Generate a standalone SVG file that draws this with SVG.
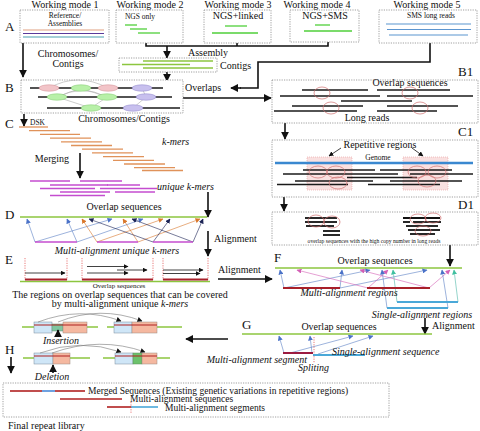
<svg xmlns="http://www.w3.org/2000/svg" width="480" height="431" viewBox="0 0 480 431">
<style>
text{font-family:"Liberation Serif",serif;fill:#111;}
.t{font-size:10px;}
.s{font-size:7.5px;}
.xs{font-size:5.6px;}
.lb{font-size:13px;}
.i{font-style:italic;}
.box{fill:#fff;stroke:#888;stroke-width:0.8;stroke-dasharray:1.2 1.2;}
.blk{stroke:#111;stroke-width:1.6;fill:none;}
.arr{stroke:#111;stroke-width:1.6;fill:none;marker-end:url(#ah);}
.g{stroke:#8cc63f;stroke-width:1.3;}
.gb{stroke:#4fcf3a;stroke-width:1.3;}
.bl{stroke:#1a1a1a;stroke-width:1.3;}
.cir{fill:none;stroke:#d07070;stroke-width:0.7;}
.km{stroke:#e0925a;stroke-width:1.3;}
.uk{stroke:#c44ccf;stroke-width:1.4;}
.lb1{stroke:#5b7fc4;stroke-width:0.6;marker-end:url(#ab);}
.lo{stroke:#d9772b;stroke-width:0.6;marker-end:url(#ao);}
.ln{stroke:#1c2456;stroke-width:0.6;marker-end:url(#an);}
.lm{stroke:#d35fb5;stroke-width:0.6;marker-end:url(#am);}
.lt{stroke:#4fb7a8;stroke-width:0.6;marker-end:url(#at);}
.red{stroke:#a8202a;stroke-width:2;}
.sky{stroke:#4aa8d8;stroke-width:2;}
.rdot{stroke:#e04040;stroke-width:0.7;stroke-dasharray:1.2 1.2;}
.ar2{stroke:#111;stroke-width:0.8;marker-end:url(#as);}
.arc{fill:none;stroke:#777;stroke-width:0.6;marker-end:url(#as);}
</style>
<defs>
<marker id="ah" viewBox="0 0 10 10" refX="9" refY="5" markerWidth="8" markerHeight="8" markerUnits="userSpaceOnUse" orient="auto"><path d="M0,0 L10,5 L0,10 Z" fill="#111"/></marker>
<marker id="as" viewBox="0 0 10 10" refX="9" refY="5" markerWidth="5" markerHeight="5" markerUnits="userSpaceOnUse" orient="auto"><path d="M0,0 L10,5 L0,10 Z" fill="#111"/></marker>
<marker id="ab" viewBox="0 0 10 10" refX="9" refY="5" markerWidth="5" markerHeight="5" markerUnits="userSpaceOnUse" orient="auto"><path d="M0,0 L10,5 L0,10 Z" fill="#4a72c8"/></marker>
<marker id="ao" viewBox="0 0 10 10" refX="9" refY="5" markerWidth="5" markerHeight="5" markerUnits="userSpaceOnUse" orient="auto"><path d="M0,0 L10,5 L0,10 Z" fill="#d9772b"/></marker>
<marker id="an" viewBox="0 0 10 10" refX="9" refY="5" markerWidth="5" markerHeight="5" markerUnits="userSpaceOnUse" orient="auto"><path d="M0,0 L10,5 L0,10 Z" fill="#1c2456"/></marker>
<marker id="am" viewBox="0 0 10 10" refX="9" refY="5" markerWidth="5" markerHeight="5" markerUnits="userSpaceOnUse" orient="auto"><path d="M0,0 L10,5 L0,10 Z" fill="#d35fb5"/></marker>
<marker id="at" viewBox="0 0 10 10" refX="9" refY="5" markerWidth="5" markerHeight="5" markerUnits="userSpaceOnUse" orient="auto"><path d="M0,0 L10,5 L0,10 Z" fill="#3fc0a0"/></marker>
</defs>
<rect width="480" height="431" fill="#fff"/>

<!-- Panel labels -->
<g id="labels">
<text class="lb" x="5" y="31">A</text>
<text class="lb" x="5" y="92">B</text>
<text class="lb" x="5" y="128">C</text>
<text class="lb" x="5" y="219">D</text>
<text class="lb" x="5" y="264">E</text>
<text class="lb" x="5" y="354">H</text>
<text class="lb" x="458" y="76">B1</text>
<text class="lb" x="458" y="136">C1</text>
<text class="lb" x="458" y="209">D1</text>
<text class="lb" x="274" y="262">F</text>
<text class="lb" x="242" y="329">G</text>
</g>

<!-- Connectors -->
<g id="connectors">
<line class="arr" x1="23" y1="43" x2="23" y2="77"/>
<path class="blk" d="M146,43 V46 H328 V42 M237,43 V46"/>
<line class="arr" x1="167" y1="46" x2="167" y2="58"/>
<line class="arr" x1="167" y1="72" x2="167" y2="81"/>
<path class="blk" d="M430,43 V62 H258 V88 H240"/>
<line class="arr" x1="241" y1="88" x2="231" y2="88"/>
<line class="arr" x1="183" y1="98" x2="271" y2="98"/>
<line class="arr" x1="285" y1="123" x2="285" y2="139"/>
<line class="arr" x1="284" y1="197" x2="284" y2="211"/>
<line class="arr" x1="24" y1="114" x2="24" y2="126"/>
<line class="arr" x1="80" y1="153" x2="80" y2="178"/>
<line class="arr" x1="208" y1="192" x2="208" y2="217"/>
<line class="arr" x1="208" y1="231" x2="208" y2="256"/>
<line class="arr" x1="218" y1="279" x2="272" y2="279"/>
<line class="arr" x1="450" y1="245" x2="450" y2="266"/>
<line class="arr" x1="425" y1="318" x2="425" y2="334"/>
<line class="arr" x1="228" y1="339" x2="186" y2="339"/>
<line class="arr" x1="11" y1="357" x2="11" y2="373"/>
<text class="t" x="68" y="57" text-anchor="middle">Chromosomes/</text>
<text class="t" x="68" y="67" text-anchor="middle">Contigs</text>
<text class="t" x="188" y="56">Assembly</text>
<text class="t" x="185" y="91">Overlaps</text>
<text class="s" x="30" y="125">DSK</text>
<text class="t" x="52" y="162" text-anchor="middle">Merging</text>
<text class="t" x="214" y="242">Alignment</text>
<text class="t" x="218" y="273">Alignment</text>
<text class="t" x="432" y="329">Alignment</text>
</g>

<!-- A: working modes -->
<g id="mode1">
<text class="t" x="65" y="8" text-anchor="middle">Working mode 1</text>
<rect class="box" x="20" y="10" width="89" height="33"/>
<text class="s" x="65" y="18" text-anchor="middle">Reference/</text>
<text class="s" x="65" y="26" text-anchor="middle">Assemblies</text>
<line x1="23" y1="30" x2="104" y2="30" stroke="#e0a080" stroke-width="1.2"/>
<line x1="23" y1="33.5" x2="104" y2="33.5" stroke="#5a3a9a" stroke-width="1.2"/>
<line x1="23" y1="37" x2="104" y2="37" stroke="#4aa0b0" stroke-width="1.2"/>
</g>
<g id="mode2">
<text class="t" x="150" y="8" text-anchor="middle">Working mode 2</text>
<rect class="box" x="116" y="10" width="67" height="33"/>
<text class="s" x="140" y="19" text-anchor="middle">NGS only</text>
<line class="gb" x1="125" y1="25" x2="137" y2="25"/>
<line class="gb" x1="130" y1="29" x2="147" y2="29"/>
<line class="gb" x1="138" y1="33" x2="160" y2="33"/>
</g>
<g id="mode3">
<text class="t" x="238" y="8" text-anchor="middle">Working mode 3</text>
<rect class="box" x="204" y="10" width="67" height="33"/>
<text class="t" x="238" y="19" text-anchor="middle">NGS+linked</text>
<line class="gb" x1="225" y1="26" x2="247" y2="26"/>
<line class="gb" x1="212" y1="33" x2="258" y2="33"/>
</g>
<g id="mode4">
<text class="t" x="317" y="8" text-anchor="middle">Working mode 4</text>
<rect class="box" x="290" y="10" width="69" height="32"/>
<text class="t" x="325" y="19" text-anchor="middle">NGS+SMS</text>
<line class="gb" x1="315" y1="25" x2="330" y2="25"/>
<line class="gb" x1="304" y1="31" x2="352" y2="31"/>
</g>
<g id="mode5">
<text class="t" x="427" y="8" text-anchor="middle">Working mode 5</text>
<rect class="box" x="379" y="10" width="98" height="33"/>
<text class="s" x="431" y="18" text-anchor="middle">SMS long reads</text>
<line x1="386" y1="24" x2="471" y2="24" stroke="#5b95d0" stroke-width="1.1"/>
<line x1="387" y1="29.5" x2="471" y2="29.5" stroke="#5b95d0" stroke-width="1.1"/>
<line x1="389" y1="35" x2="468" y2="35" stroke="#5b95d0" stroke-width="1.1"/>
</g>
<g id="contigs">
<rect class="box" x="119" y="58" width="98" height="14"/>
<line class="g" x1="143" y1="61" x2="213" y2="61"/>
<line class="g" x1="122" y1="64.5" x2="190" y2="64.5"/>
<line class="g" x1="143" y1="68" x2="213" y2="68"/>
<text class="t" x="220" y="69">Contigs</text>
</g>

<!-- B -->
<g id="B">
<rect class="box" x="21" y="80" width="162" height="33"/>
<g fill="none" stroke="#aaa" stroke-width="0.6">
<path d="M49,88 Q78,72 108,88"/>
<path d="M81,88 L57,97 M81,88 L107,97"/>
<path d="M57,97 Q82,84 107,97"/>
<path d="M57,97 L91,108 M107,97 L91,108"/>
<path d="M142,88 L146,97 L133,108"/>
</g>
<line class="bl" x1="30" y1="88" x2="163" y2="88"/>
<line class="bl" x1="38" y1="97" x2="172" y2="97"/>
<line class="bl" x1="47" y1="108" x2="180" y2="108"/>
<g stroke-width="0.5">
<ellipse cx="49" cy="88" rx="10" ry="3.2" fill="#f2c4c8" stroke="#d08a90"/>
<ellipse cx="81" cy="88" rx="10" ry="3.2" fill="#b8f0a8" stroke="#7cc86a"/>
<ellipse cx="108" cy="88" rx="10" ry="3.2" fill="#f2c4c8" stroke="#d08a90"/>
<ellipse cx="142" cy="88" rx="10" ry="3.2" fill="#c8c0ee" stroke="#8a80c8"/>
<ellipse cx="57" cy="97" rx="10" ry="3.2" fill="#b8f0a8" stroke="#7cc86a"/>
<ellipse cx="107" cy="97" rx="10" ry="3.2" fill="#b8f0a8" stroke="#7cc86a"/>
<ellipse cx="146" cy="97" rx="10" ry="3.2" fill="#c8c0ee" stroke="#8a80c8"/>
<ellipse cx="91" cy="108" rx="10" ry="3.2" fill="#b8f0a8" stroke="#7cc86a"/>
<ellipse cx="133" cy="108" rx="10" ry="3.2" fill="#c8c0ee" stroke="#8a80c8"/>
</g>
<text class="t" x="124" y="122" text-anchor="middle">Chromosomes/Contigs</text>
</g>

<!-- B1 -->
<g id="B1">
<rect class="box" x="272" y="80" width="206" height="43"/>
<text class="t" x="410" y="86" text-anchor="middle">Overlap sequences</text>
<line class="bl" x1="302" y1="90" x2="368" y2="90"/>
<line class="bl" x1="377" y1="90" x2="450" y2="90"/>
<line class="bl" x1="280" y1="96" x2="380" y2="96"/>
<line class="bl" x1="387" y1="96" x2="473" y2="96"/>
<line class="bl" x1="341" y1="101" x2="412" y2="101"/>
<line class="bl" x1="292" y1="106" x2="363" y2="106"/>
<line class="bl" x1="387" y1="106" x2="458" y2="106"/>
<line class="bl" x1="274" y1="111" x2="357" y2="111"/>
<line class="bl" x1="377" y1="111" x2="437" y2="111"/>
<ellipse class="cir" cx="322" cy="93" rx="8" ry="6"/>
<ellipse class="cir" cx="410" cy="93" rx="8" ry="6"/>
<ellipse class="cir" cx="331" cy="108" rx="8" ry="6"/>
<ellipse class="cir" cx="420" cy="108" rx="8" ry="6"/>
<text class="t" x="367" y="121" text-anchor="middle">Long reads</text>
</g>

<!-- C1 -->
<g id="C1">
<rect class="box" x="272" y="140" width="206" height="57"/>
<rect x="307" y="157" width="45" height="33" fill="#f9e0e0" stroke="#e8a0a0" stroke-width="0.6" stroke-dasharray="1 1"/>
<rect x="403" y="157" width="45" height="33" fill="#f9e0e0" stroke="#e8a0a0" stroke-width="0.6" stroke-dasharray="1 1"/>
<text class="t" x="380" y="148" text-anchor="middle">Repetitive regions</text>
<line class="ar2" x1="341" y1="148" x2="329" y2="156"/>
<line class="ar2" x1="412" y1="148" x2="423" y2="156"/>
<text class="s" x="378" y="160" text-anchor="middle">Genome</text>
<line x1="275" y1="163" x2="473" y2="163" stroke="#3a88d0" stroke-width="2.5"/>
<line class="bl" x1="303" y1="170" x2="375" y2="170"/>
<line class="bl" x1="380" y1="170" x2="452" y2="170"/>
<line class="bl" x1="283" y1="174" x2="398" y2="174"/>
<line class="bl" x1="410" y1="174" x2="473" y2="174"/>
<line class="bl" x1="347" y1="177.5" x2="417" y2="177.5"/>
<line class="bl" x1="295" y1="181" x2="373" y2="181"/>
<line class="bl" x1="390" y1="181" x2="462" y2="181"/>
<line class="bl" x1="277" y1="184.5" x2="348" y2="184.5"/>
<line class="bl" x1="368" y1="184.5" x2="440" y2="184.5"/>
<ellipse class="cir" cx="318" cy="172" rx="9" ry="6"/>
<ellipse class="cir" cx="336" cy="172" rx="9" ry="6"/>
<ellipse class="cir" cx="338" cy="183" rx="9" ry="6"/>
<ellipse class="cir" cx="417" cy="172" rx="9" ry="6"/>
<ellipse class="cir" cx="437" cy="172" rx="9" ry="6"/>
<ellipse class="cir" cx="427" cy="181" rx="9" ry="6"/>
</g>

<!-- D1 -->
<g id="D1">
<rect class="box" x="272" y="212" width="206" height="33"/>
<g stroke="#111" stroke-width="1.8">
<line x1="305" y1="218" x2="337" y2="218"/>
<line x1="305" y1="222" x2="337" y2="222"/>
<line x1="306" y1="226" x2="334" y2="226"/>
<line x1="323" y1="231" x2="340" y2="231"/>
<line x1="323" y1="235" x2="340" y2="235"/>
<line x1="403" y1="218" x2="440" y2="218"/>
<line x1="403" y1="222" x2="410" y2="222"/>
<line x1="413" y1="222" x2="441" y2="222"/>
<line x1="406" y1="226" x2="438" y2="226"/>
<line x1="408" y1="230" x2="440" y2="230"/>
<line x1="410" y1="234" x2="435" y2="234"/>
</g>
<ellipse class="cir" cx="316" cy="221" rx="8" ry="6"/>
<ellipse class="cir" cx="332" cy="222" rx="8" ry="6"/>
<ellipse class="cir" cx="418" cy="219" rx="8" ry="5"/>
<ellipse class="cir" cx="433" cy="218" rx="8" ry="5"/>
<ellipse class="cir" cx="423" cy="231" rx="8" ry="5"/>
<text class="xs" x="374" y="243" text-anchor="middle">overlap sequences with the high copy number in long reads</text>
</g>

<!-- C: k-mers -->
<g id="C">
<g class="km">
<line x1="19" y1="127" x2="48" y2="127"/>
<line x1="29" y1="130.7" x2="70" y2="130.7"/>
<line x1="40" y1="134.4" x2="80" y2="134.4"/>
<line x1="50" y1="138.1" x2="91" y2="138.1"/>
<line x1="61" y1="141.8" x2="102" y2="141.8"/>
<line x1="71" y1="145.5" x2="112" y2="145.5"/>
<line x1="82" y1="149.2" x2="123" y2="149.2"/>
<line x1="92" y1="152.9" x2="133" y2="152.9"/>
<line x1="103" y1="156.6" x2="144" y2="156.6"/>
<line x1="113" y1="160.3" x2="154" y2="160.3"/>
<line x1="124" y1="164" x2="165" y2="164"/>
<line x1="134" y1="167.7" x2="175" y2="167.7"/>
<line x1="142" y1="170.5" x2="183" y2="170.5"/>
</g>
<text class="t i" x="162" y="145">k-mers</text>
<g class="uk">
<line x1="30" y1="181" x2="70" y2="181"/>
<line x1="80" y1="181" x2="122" y2="181"/>
<line x1="50" y1="185" x2="108" y2="185"/>
<line x1="107" y1="185" x2="140" y2="185"/>
<line x1="40" y1="188.5" x2="95" y2="188.5"/>
<line x1="100" y1="188.5" x2="157" y2="188.5"/>
<line x1="60" y1="192" x2="110" y2="192"/>
<line x1="115" y1="192" x2="155" y2="192"/>
<line x1="50" y1="195.5" x2="105" y2="195.5"/>
</g>
<text class="t i" x="157" y="190">unique k-mers</text>
</g>

<!-- D -->
<g id="D">
<text class="t" x="124" y="210" text-anchor="middle">Overlap sequences</text>
<line class="g" x1="20" y1="217" x2="207" y2="217"/>
<line class="lb1" x1="35" y1="242" x2="27" y2="219"/>
<line class="lb1" x1="77" y1="242" x2="67" y2="219"/>
<line class="lb1" x1="35" y1="242" x2="112" y2="219"/>
<line class="lb1" x1="77" y1="242" x2="143" y2="219"/>
<line class="lo" x1="97" y1="242" x2="82" y2="219"/>
<line class="lo" x1="138" y1="242" x2="123" y2="219"/>
<line class="lo" x1="97" y1="242" x2="163" y2="219"/>
<line class="lo" x1="138" y1="242" x2="200" y2="219"/>
<line class="ln" x1="153" y1="242" x2="89" y2="219"/>
<line class="ln" x1="193" y1="242" x2="132" y2="219"/>
<line class="ln" x1="153" y1="242" x2="170" y2="219"/>
<line class="ln" x1="193" y1="242" x2="203" y2="219"/>
<g class="uk">
<line x1="35" y1="242" x2="77" y2="242"/>
<line x1="97" y1="242" x2="138" y2="242"/>
<line x1="153" y1="242" x2="193" y2="242"/>
</g>
<text class="t i" x="117" y="254" text-anchor="middle">Multi-alignment unique k-mers</text>
</g>

<!-- E -->
<g id="E">
<g class="rdot">
<line x1="25" y1="258" x2="25" y2="280"/>
<line x1="67" y1="258" x2="67" y2="280"/>
<line x1="82" y1="258" x2="82" y2="280"/>
<line x1="153" y1="258" x2="153" y2="280"/>
<line x1="163" y1="258" x2="163" y2="280"/>
<line x1="208" y1="258" x2="208" y2="280"/>
</g>
<line class="ar2" x1="25" y1="273" x2="65" y2="273"/>
<line class="ar2" x1="87" y1="266.5" x2="128" y2="266.5"/>
<line class="ar2" x1="117" y1="270" x2="147" y2="270"/>
<line class="ar2" x1="87" y1="273" x2="128" y2="273"/>
<line class="ar2" x1="163" y1="270" x2="203" y2="270"/>
<line class="ar2" x1="163" y1="273.5" x2="200" y2="273.5"/>
<line class="g" x1="20" y1="281.5" x2="210" y2="281.5"/>
<g class="red" stroke="#d02020">
<line x1="25" y1="279.5" x2="67" y2="279.5"/>
<line x1="82" y1="279.5" x2="153" y2="279.5"/>
<line x1="163" y1="279.5" x2="208" y2="279.5"/>
</g>
<text x="119" y="288" text-anchor="middle" font-size="7">Overlap sequences</text>
<text class="t" x="120" y="297.5" text-anchor="middle">The regions on overlap sequences that can be covered</text>
<text class="t" x="120" y="307" text-anchor="middle">by multi-alignment unique <tspan font-style="italic">k-mers</tspan></text>
</g>

<!-- F -->
<g id="F">
<text class="t" x="375" y="264" text-anchor="middle">Overlap sequences</text>
<line class="g" x1="275" y1="268" x2="462" y2="268"/>
<line class="lb1" x1="284" y1="288" x2="280" y2="270"/>
<line class="lb1" x1="340" y1="288" x2="342" y2="270"/>
<line class="lb1" x1="284" y1="288" x2="370" y2="270"/>
<line class="lb1" x1="340" y1="288" x2="427" y2="270"/>
<line class="lm" x1="368" y1="288" x2="297" y2="270"/>
<line class="lm" x1="429" y1="288" x2="360" y2="270"/>
<line class="lm" x1="368" y1="288" x2="388" y2="270"/>
<line class="lm" x1="429" y1="288" x2="450" y2="270"/>
<line class="lt" x1="397" y1="302" x2="393" y2="270"/>
<line class="lt" x1="458" y1="302" x2="454" y2="270"/>
<line class="lb1" x1="387" y1="308" x2="382" y2="270"/>
<line class="lb1" x1="448" y1="308" x2="442" y2="270"/>
<line class="red" x1="283" y1="288" x2="340" y2="288"/>
<line class="red" x1="367" y1="288" x2="430" y2="288"/>
<line class="sky" x1="397" y1="302" x2="458" y2="302"/>
<line class="sky" x1="387" y1="308" x2="448" y2="308"/>
<text class="t i" x="349" y="296" text-anchor="middle">Multi-alignment regions</text>
<text class="t i" x="422" y="318" text-anchor="middle">Single-alignment regions</text>
</g>

<!-- G -->
<g id="G">
<text class="t" x="339" y="330" text-anchor="middle">Overlap sequences</text>
<line class="g" x1="242" y1="334" x2="432" y2="334"/>
<line class="lb1" x1="284" y1="353" x2="279" y2="336"/>
<line class="lb1" x1="312" y1="353" x2="310" y2="336"/>
<line class="lb1" x1="290" y1="353" x2="353" y2="336"/>
<line class="lb1" x1="318" y1="354" x2="373" y2="336"/>
<line class="rdot" x1="314" y1="337" x2="314" y2="363" stroke="#d060a0"/>
<line x1="283" y1="353" x2="313" y2="353" stroke="#9b1b40" stroke-width="2"/>
<line class="sky" x1="313" y1="355" x2="365" y2="355"/>
<text class="t i" x="332" y="355">Single-alignment sequence</text>
<text class="t i" x="307" y="363" text-anchor="end">Multi-alignment segment</text>
<text class="t i" x="298" y="371">Spliting</text>
</g>

<!-- H: insertion / deletion -->
<g id="insertion">
<line class="g" x1="22" y1="327" x2="98" y2="327"/>
<rect x="34" y="322" width="18" height="11" fill="#cfe6f7" stroke="#7a8a9a" stroke-width="0.5"/>
<rect x="52" y="324" width="11" height="7" fill="#7fc7a0" stroke="#6a8a7a" stroke-width="0.5"/>
<rect x="63" y="322" width="24" height="11" fill="#f5b8a0" stroke="#9a8a80" stroke-width="0.5"/>
<line x1="34" y1="325" x2="87" y2="325" stroke="#b02020" stroke-width="1.2"/>
<line class="g" x1="107" y1="327" x2="182" y2="327"/>
<rect x="114" y="322" width="18" height="11" fill="#cfe6f7" stroke="#7a8a9a" stroke-width="0.5"/>
<rect x="132" y="322" width="25" height="11" fill="#f5b8a0" stroke="#9a8a80" stroke-width="0.5"/>
<line x1="114" y1="325" x2="157" y2="325" stroke="#b02020" stroke-width="1.2"/>
<path class="arc" d="M38,322 Q80,306 121,321"/>
<path class="arc" d="M58,322 Q100,305 142,321"/>
<line class="arr" x1="58" y1="337" x2="58" y2="330"/>
<text class="t i" x="61" y="344" text-anchor="middle">Insertion</text>
</g>
<g id="deletion">
<line class="g" x1="23" y1="358" x2="90" y2="358"/>
<rect x="34" y="353" width="19" height="11" fill="#cfe6f7" stroke="#7a8a9a" stroke-width="0.5"/>
<rect x="53" y="353" width="17" height="11" fill="#f5b8a0" stroke="#9a8a80" stroke-width="0.5"/>
<line x1="34" y1="356" x2="70" y2="356" stroke="#b02020" stroke-width="1.2"/>
<line class="g" x1="103" y1="358" x2="170" y2="358"/>
<rect x="115" y="353" width="18" height="11" fill="#cfe6f7" stroke="#7a8a9a" stroke-width="0.5"/>
<rect x="133" y="353" width="9" height="11" fill="#6cc26c" stroke="#5a8a5a" stroke-width="0.5"/>
<rect x="142" y="353" width="15" height="11" fill="#f5b8a0" stroke="#9a8a80" stroke-width="0.5"/>
<line x1="115" y1="356" x2="157" y2="356" stroke="#b02020" stroke-width="1.2"/>
<path class="arc" d="M40,353 Q80,338 121,352"/>
<path class="arc" d="M52,353 Q100,336 145,352"/>
<line class="arr" x1="53" y1="373" x2="53" y2="365"/>
<text class="t i" x="52" y="380" text-anchor="middle">Deletion</text>
</g>

<!-- Final library -->
<g id="library">
<rect class="box" x="3" y="383" width="386" height="34"/>
<line x1="10" y1="391" x2="42" y2="391" stroke="#b02020" stroke-width="1.6"/>
<line x1="42" y1="391" x2="55" y2="391" stroke="#4a8ad8" stroke-width="1.6"/>
<line x1="55" y1="391" x2="85" y2="391" stroke="#b02020" stroke-width="1.6"/>
<text x="88" y="393.5" font-size="9.5">Merged Sequences (Existing genetic variations in repetitive regions)</text>
<line x1="60" y1="399" x2="122" y2="399" stroke="#b02020" stroke-width="1.6"/>
<text x="130" y="402" font-size="9.5">Multi-alignment sequences</text>
<line x1="107" y1="407" x2="131" y2="407" stroke="#b02020" stroke-width="1.6"/>
<line x1="131" y1="407" x2="158" y2="407" stroke="#4aa8d8" stroke-width="1.6"/>
<line class="rdot" x1="131" y1="402" x2="131" y2="413"/>
<text x="165" y="410.5" font-size="9.5">Multi-alignment segments</text>
<text class="t" x="8" y="429">Final repeat library</text>
</g>
</svg>
